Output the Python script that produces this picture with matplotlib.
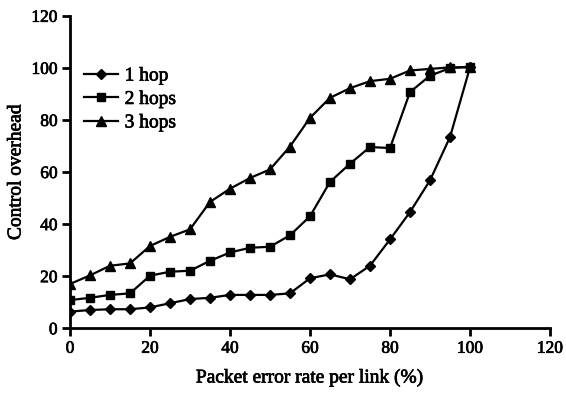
import matplotlib
matplotlib.use("Agg")
import matplotlib.pyplot as plt
import matplotlib.patheffects as pe

plt.rcParams['font.family'] = ['Liberation Serif', 'DejaVu Serif']

x = [0, 5, 10, 15, 20, 25, 30, 35, 40, 45, 50, 55, 60, 65, 70, 75, 80, 85, 90, 95, 100]
hop1 = [6.4, 7.0, 7.3, 7.3, 8.0, 9.6, 11.2, 11.7, 12.8, 12.8, 12.8, 13.4, 19.2, 20.7, 18.8, 24.0, 34.1, 44.6, 56.8, 73.4, 100.2]
hop2 = [10.8, 11.7, 12.8, 13.4, 20.2, 21.7, 22.1, 25.9, 29.1, 30.9, 31.3, 35.7, 43.0, 56.2, 63.2, 69.6, 69.2, 90.7, 97.0, 99.9, 100.5]
hop3 = [17.0, 20.3, 24.0, 24.9, 31.6, 35.1, 38.0, 48.5, 53.6, 57.7, 61.0, 69.8, 80.8, 88.5, 92.2, 94.9, 95.8, 99.0, 99.6, 100.2, 100.2]
labels = ['1 hop', '2 hops', '3 hops']
xticks = [0, 20, 40, 60, 80, 100, 120]
yticks = [0, 20, 40, 60, 80, 100, 120]

stroke = [pe.withStroke(linewidth=0.5, foreground='black')]

fig = plt.figure(figsize=(5.66, 3.95), dpi=100)
ax = fig.add_axes([0.1237, 0.169, 0.848, 0.791])
ax.plot(x, hop1, color='black', marker='D', markersize=5, lw=1.6, label=labels[0])
ax.plot(x, hop2, color='black', marker='s', markersize=6, lw=1.6, label=labels[1])
ax.plot(x, hop3, color='black', marker='^', markersize=7, lw=1.6, label=labels[2])

ax.set_xlim(0, 120)
ax.set_ylim(0, 120)
ax.set_xticks(xticks)
ax.set_yticks(yticks)
for s in ['top', 'right']:
    ax.spines[s].set_visible(False)
for s in ['left', 'bottom']:
    ax.spines[s].set_linewidth(2)
    ax.spines[s].set_color('black')
ax.tick_params(axis='both', direction='out', length=6, width=2, labelsize=12.5, pad=3)
for t in ax.get_xticklabels() + ax.get_yticklabels():
    t.set_path_effects(stroke)
ax.set_xlabel('Packet error rate per link (%)', fontsize=14, labelpad=9, path_effects=stroke)
ax.set_ylabel('Control overhead', fontsize=14, labelpad=5, path_effects=stroke)
leg = ax.legend(loc='upper left', bbox_to_anchor=(0.0, 0.88), frameon=False, fontsize=14,
                handlelength=1.75, handletextpad=0.36, labelspacing=0.3, borderaxespad=0.3)
for t in leg.get_texts():
    t.set_path_effects(stroke)
fig.savefig('out.png', dpi=100)
